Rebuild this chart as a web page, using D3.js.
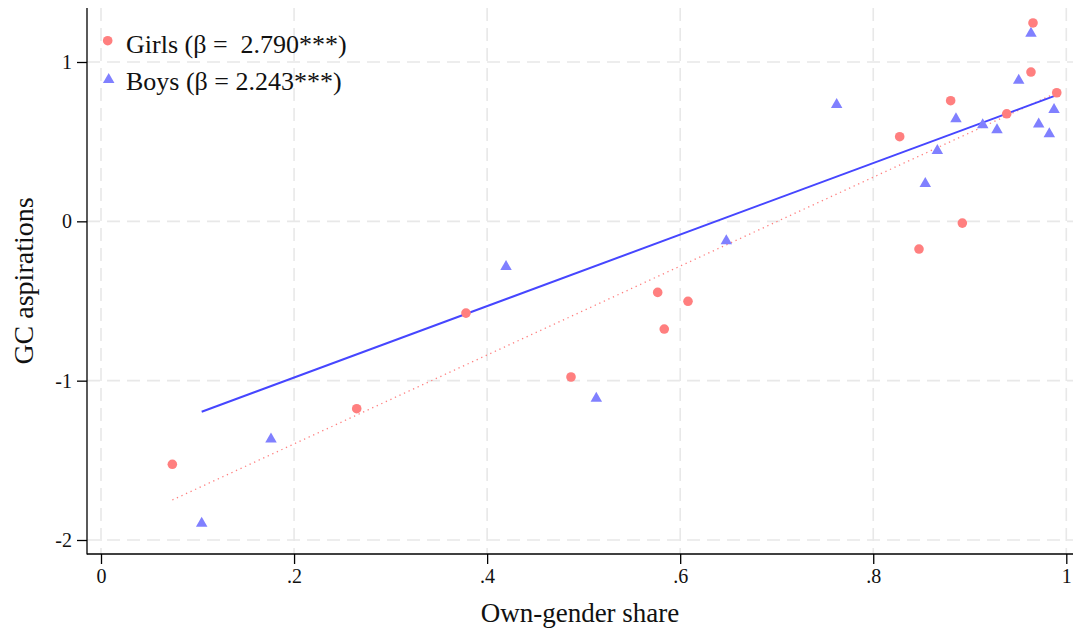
<!DOCTYPE html>
<html>
<head>
<meta charset="utf-8">
<script src="https://cdn.jsdelivr.net/npm/d3@7"></script>
<style>
  html, body { margin: 0; padding: 0; background: #fff; }
  svg { display: block; font-family: "Liberation Serif", "Times New Roman", serif; }
</style>
</head>
<body>
<svg id="chart" width="1073" height="633"></svg>
<script>
// Own-gender share (x) and GC aspirations (y), by gender
const girlsShare = [0.0739, 0.2649, 0.3781, 0.4869, 0.5767, 0.5835, 0.6081, 0.8274, 0.8474, 0.8802, 0.8923, 0.9383, 0.9634, 0.9655, 0.9901];
const girlsAsp   = [-1.525, -1.176, -0.576, -0.977, -0.446, -0.676, -0.502, 0.531, -0.174, 0.757, -0.011, 0.675, 0.937, 1.245, 0.807];
const boysShare  = [0.1043, 0.1761, 0.4196, 0.5131, 0.6478, 0.7621, 0.8539, 0.8664, 0.8857, 0.9134, 0.9282, 0.9507, 0.9634, 0.9714, 0.9824, 0.9873];
const boysAsp    = [-1.885, -1.356, -0.274, -1.101, -0.113, 0.742, 0.247, 0.454, 0.653, 0.615, 0.584, 0.895, 1.190, 0.621, 0.559, 0.711];

// Linear fits: slope (β) and intercept per group
const fitGirls = [2.790, -1.955];
const fitBoys  = [2.243, -1.429];

const xTicks = [0, 0.2, 0.4, 0.6, 0.8, 1];
const xTickLabels = ["0", ".2", ".4", ".6", ".8", "1"];
const yTicks = [-2, -1, 0, 1];
const yTickLabels = ["-2", "-1", "0", "1"];

const legendLabels = ["Girls (β =  2.790***)", "Boys (β = 2.243***)"];

const svg = d3.select("#chart");
const W = 1073, H = 633;

const plot = { left: 87, right: 1073, top: 8, bottom: 554 };
const x = d3.scaleLinear().domain([0, 1]).range([101, 1066.3]);
const y = d3.scaleLinear().domain([-2, 1]).range([540, 62]);

const girlsColor = "#ff7f7f";
const boysColor = "#8080ff";
const boysLine = "#4646ff";
const gridColor = "#e8e8e8";

// grid
const grid = svg.append("g");
grid.selectAll("line.gx").data(xTicks).join("line")
  .attr("x1", d => x(d)).attr("x2", d => x(d))
  .attr("y1", plot.top).attr("y2", plot.bottom)
  .attr("stroke", gridColor).attr("stroke-width", 1.6)
  .attr("stroke-dasharray", "13,7");
grid.selectAll("line.gy").data(yTicks).join("line")
  .attr("y1", d => y(d)).attr("y2", d => y(d))
  .attr("x1", plot.left).attr("x2", plot.right)
  .attr("stroke", gridColor).attr("stroke-width", 1.6)
  .attr("stroke-dasharray", "13,7");

// axes
const xAxis = d3.axisBottom(x).tickValues(xTicks)
  .tickFormat((d, i) => xTickLabels[i]).tickSize(10).tickSizeOuter(0).tickPadding(4);
const gx = svg.append("g").attr("transform", `translate(0,${plot.bottom})`).call(xAxis);
gx.select(".domain").remove();
gx.selectAll(".tick line").attr("stroke", "#000").attr("stroke-width", 1.3);
gx.selectAll(".tick text").attr("font-size", 20).attr("fill", "#111")
  .attr("font-family", "Liberation Serif").attr("dy", "0.74em");

const yAxis = d3.axisLeft(y).tickValues(yTicks)
  .tickFormat((d, i) => yTickLabels[i]).tickSize(10).tickSizeOuter(0).tickPadding(5);
const gy = svg.append("g").attr("transform", `translate(${plot.left},0)`).call(yAxis);
gy.select(".domain").remove();
gy.selectAll(".tick line").attr("stroke", "#000").attr("stroke-width", 1.3);
gy.selectAll(".tick text").attr("font-size", 20).attr("fill", "#111")
  .attr("font-family", "Liberation Serif");

svg.append("line").attr("x1", plot.left).attr("x2", plot.left)
  .attr("y1", plot.top).attr("y2", plot.bottom + 0.6)
  .attr("stroke", "#000").attr("stroke-width", 1.3);
svg.append("line").attr("x1", plot.left).attr("x2", plot.right)
  .attr("y1", plot.bottom).attr("y2", plot.bottom)
  .attr("stroke", "#000").attr("stroke-width", 1.3);

// axis titles
svg.append("text").attr("x", (plot.left + plot.right) / 2).attr("y", 622)
  .attr("text-anchor", "middle").attr("font-size", 27).attr("fill", "#111")
  .text("Own-gender share");
svg.append("text").attr("transform", `translate(33,${(plot.top + plot.bottom) / 2}) rotate(-90)`)
  .attr("text-anchor", "middle").attr("font-size", 28).attr("fill", "#111")
  .text("GC aspirations");

// fit lines spanning each group's share range
function fitSegment(xs, fit) {
  const [lo, hi] = d3.extent(xs);
  return [[lo, fit[1] + fit[0] * lo], [hi, fit[1] + fit[0] * hi]];
}
const lineGen = d3.line().x(d => x(d[0])).y(d => y(d[1]));

svg.append("path").attr("d", lineGen(fitGirls.length ? fitSegment(girlsShare, fitGirls) : []))
  .attr("fill", "none").attr("stroke", girlsColor).attr("stroke-width", 1.3)
  .attr("stroke-dasharray", "1.3,3.7");
svg.append("path").attr("d", lineGen(fitSegment(boysShare, fitBoys)))
  .attr("fill", "none").attr("stroke", boysLine).attr("stroke-width", 2);

// markers
const tri = (cx, cy, w, h) => `M${cx},${cy - h / 2}L${cx + w / 2},${cy + h / 2}L${cx - w / 2},${cy + h / 2}Z`;

svg.append("g").selectAll("path").data(boysShare.map((s, i) => [s, boysAsp[i]])).join("path")
  .attr("d", d => tri(x(d[0]), y(d[1]), 11.5, 10))
  .attr("fill", boysColor);

svg.append("g").selectAll("circle").data(girlsShare.map((s, i) => [s, girlsAsp[i]])).join("circle")
  .attr("cx", d => x(d[0])).attr("cy", d => y(d[1])).attr("r", 4.8)
  .attr("fill", girlsColor);

// legend
const leg = svg.append("g");
leg.append("circle").attr("cx", 107.7).attr("cy", 40.7).attr("r", 4.8).attr("fill", girlsColor);
leg.append("path").attr("d", tri(108.7, 78, 11.5, 10)).attr("fill", boysColor);
leg.selectAll("text").data(legendLabels).join("text")
  .attr("x", 126).attr("y", (d, i) => 53 + i * 37)
  .attr("font-size", 26).attr("fill", "#111")
  .style("white-space", "pre")
  .text(d => d);
</script>
</body>
</html>
